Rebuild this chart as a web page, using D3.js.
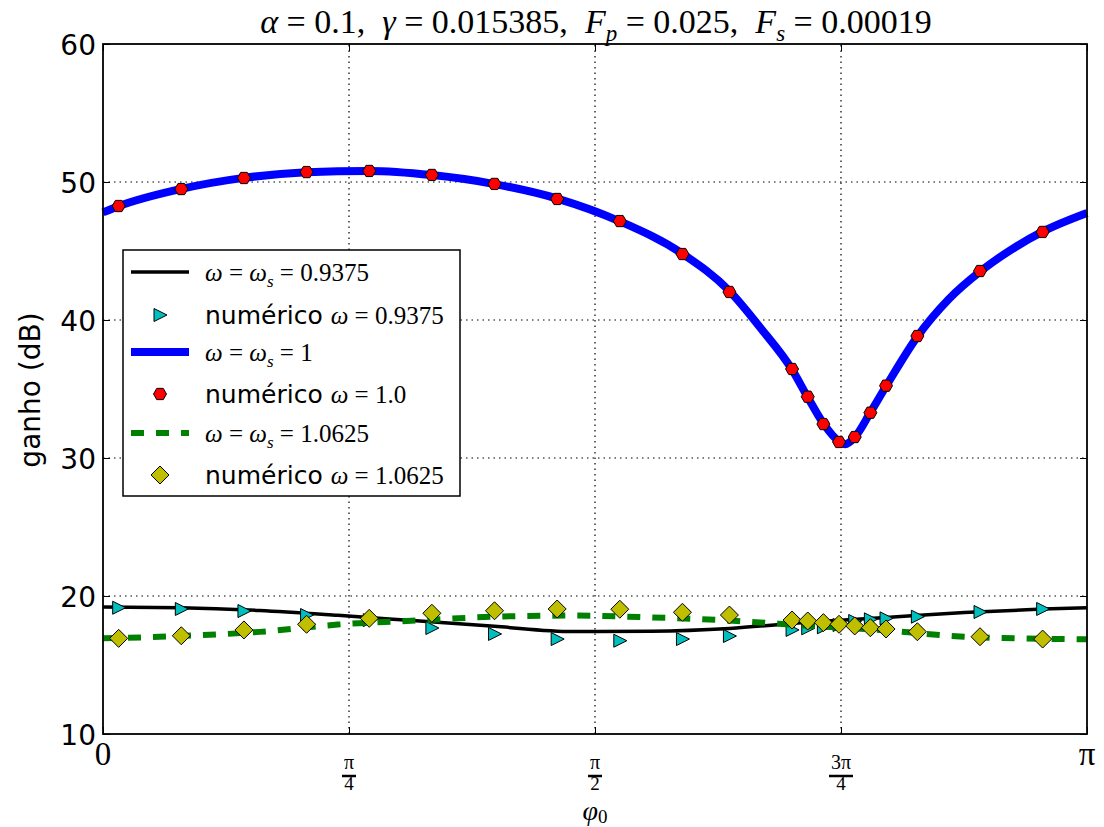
<!DOCTYPE html>
<html>
<head>
<meta charset="utf-8">
<script src="https://cdn.jsdelivr.net/npm/d3@7"></script>
<style>
body { margin: 0; background: #fff; }
text { fill: #000; }
</style>
</head>
<body>
<svg id="chart" width="1104" height="827"></svg>
<script>
// phi values (rad) where the numerical results were computed
const phiMarkers = [0.05, 0.25, 0.45, 0.65, 0.85, 1.05, 1.25, 1.45, 1.65, 1.85, 2.0,
  2.2, 2.25, 2.3, 2.35, 2.4, 2.45, 2.5, 2.6, 2.8, 3.0]
const numW09375 = [19.15, 19.06, 18.91, 18.62, 18.25, 17.68, 17.25, 16.88, 16.76, 16.88, 17.10,
  17.54, 17.66, 17.73, 17.90, 18.19, 18.31, 18.38, 18.50, 18.84, 19.06]
const numW1 = [48.26, 49.49, 50.29, 50.72, 50.80, 50.51, 49.86, 48.77, 47.17, 44.78, 42.03,
  36.45, 34.44, 32.46, 31.16, 31.52, 33.28, 35.24, 38.84, 43.55, 46.38]
const numW10625 = [16.93, 17.12, 17.54, 17.95, 18.38, 18.75, 18.93, 19.06, 19.04, 18.82, 18.62,
  18.26, 18.19, 18.07, 17.95, 17.83, 17.70, 17.61, 17.41, 17.05, 16.88]

// analytic curves
const phiCurve = [0, 0.25, 0.5, 0.75, 1.0, 1.25, 1.5, 1.75, 2.0, 2.25, 2.5, 2.75, 3.0, Math.PI]
const curveW09375 = [19.2, 19.15, 18.95, 18.6, 18.2, 17.8, 17.42, 17.45, 17.65, 18.1, 18.45, 18.8, 19.05, 19.15]
const curveW10625 = [16.93, 17.1, 17.4, 17.93, 18.22, 18.5, 18.58, 18.45, 18.22, 17.85, 17.5, 17.05, 16.9, 16.86]
const phiBlue = [0, 0.05, 0.25, 0.45, 0.65, 0.85, 1.05, 1.25, 1.45, 1.65, 1.85, 2.0, 2.1,
  2.2, 2.25, 2.3, 2.35, 2.37, 2.4, 2.45, 2.5, 2.6, 2.7, 2.8, 2.9, 3.0, Math.PI]
const curveW1 = [47.8, 48.25, 49.5, 50.3, 50.7, 50.8, 50.5, 49.85, 48.8, 47.15, 44.8, 42.1, 39.4,
  36.4, 34.4, 32.5, 31.2, 31.0, 31.5, 33.3, 35.2, 38.8, 41.5, 43.5, 45.1, 46.4, 47.75]

const yTicks = [10, 20, 30, 40, 50, 60]
const xTicks = [0, Math.PI / 4, Math.PI / 2, 3 * Math.PI / 4, Math.PI]
const xTickLabels = [['0'], ['π', '4'], ['π', '2'], ['3π', '4'], ['π']]

const svg = d3.select('#chart')
const serif = '"Liberation Serif", "DejaVu Serif", serif'
const sans = '"DejaVu Sans", sans-serif'

const x = d3.scaleLinear().domain([0, Math.PI]).range([103, 1087])
const y = d3.scaleLinear().domain([10, 60]).range([734, 44])

const zip = (xs, ys) => xs.map((d, i) => [d, ys[i]])

// grid
const grid = svg.append('g')
grid.selectAll('.gx').data(xTicks.slice(1, -1)).enter().append('line')
  .attr('x1', d => x(d)).attr('x2', d => x(d)).attr('y1', y(10)).attr('y2', y(60))
  .attr('stroke', '#000').attr('stroke-width', 1.2).attr('stroke-dasharray', '1.5,4')
grid.selectAll('.gy').data(yTicks.slice(1, -1)).enter().append('line')
  .attr('x1', x(0)).attr('x2', x(Math.PI)).attr('y1', d => y(d)).attr('y2', d => y(d))
  .attr('stroke', '#000').attr('stroke-width', 1.2).attr('stroke-dasharray', '1.5,4')

const line = d3.line().x(d => x(d[0])).y(d => y(d[1])).curve(d3.curveMonotoneX)
const plot = svg.append('g')

function markerPath(type) {
  if (type === 'tri') return 'M7,0 L-6,-6.5 L-6,6.5 Z'
  if (type === 'dia') return 'M0,-9 L9,0 L0,9 L-9,0 Z'
  const r = 6.5
  return d3.range(6).map(i => {
    const a = i * Math.PI / 3
    return (i ? 'L' : 'M') + (r * Math.cos(a)).toFixed(2) + ',' + (r * Math.sin(a)).toFixed(2)
  }).join('') + 'Z'
}

function drawLine(data, color, width, dash) {
  plot.append('path').datum(data).attr('d', line)
    .attr('fill', 'none').attr('stroke', color).attr('stroke-width', width)
    .attr('stroke-dasharray', dash || null).attr('stroke-linejoin', 'round')
}
function drawMarkers(data, type, color) {
  plot.append('g').selectAll('path').data(data).enter().append('path')
    .attr('transform', d => `translate(${x(d[0])},${y(d[1])})`)
    .attr('d', markerPath(type))
    .attr('fill', color).attr('stroke', '#000').attr('stroke-width', 1)
}

drawLine(zip(phiCurve, curveW09375), '#000', 3.5)
drawMarkers(zip(phiMarkers, numW09375), 'tri', '#00bfbf')
drawLine(zip(phiBlue, curveW1), '#0000ff', 8)
drawMarkers(zip(phiMarkers, numW1), 'hex', '#ff0000')
drawLine(zip(phiCurve, curveW10625), '#008000', 6, '13,12')
drawMarkers(zip(phiMarkers, numW10625), 'dia', '#bfbf00')

// axes with inward ticks
svg.append('g').attr('transform', 'translate(103,0)')
  .call(d3.axisLeft(y).tickValues(yTicks).tickSize(-7).tickPadding(7))
  .call(g => g.select('.domain').remove())
  .call(g => g.selectAll('text').attr('font-family', sans).attr('font-size', 28).attr('dy', '0.36em'))
svg.append('g').attr('transform', 'translate(1087,0)')
  .call(d3.axisRight(y).tickValues(yTicks).tickSize(-7).tickFormat(''))
  .call(g => g.select('.domain').remove())
svg.append('g').attr('transform', 'translate(0,734)')
  .call(d3.axisBottom(x).tickValues(xTicks).tickSize(-7).tickFormat(''))
  .call(g => g.select('.domain').remove())
svg.append('g').attr('transform', 'translate(0,44)')
  .call(d3.axisTop(x).tickValues(xTicks).tickSize(-7).tickFormat(''))
  .call(g => g.select('.domain').remove())
svg.selectAll('.tick line').attr('stroke', '#000').attr('stroke-width', 1)

svg.append('rect').attr('x', 103).attr('y', 44).attr('width', 984).attr('height', 690)
  .attr('fill', 'none').attr('stroke', '#000').attr('stroke-width', 1.8)

// x tick labels (fractions of pi)
const xl = svg.append('g').attr('font-family', serif)
xTicks.forEach((t, i) => {
  const lab = xTickLabels[i]
  if (lab.length === 1) {
    xl.append('text').attr('x', x(t)).attr('y', 765).attr('text-anchor', 'middle')
      .attr('font-size', 33).text(lab[0])
  } else {
    xl.append('text').attr('x', x(t)).attr('y', 769).attr('text-anchor', 'middle')
      .attr('font-size', 20).text(lab[0])
    const w = lab[0].length > 1 ? 12 : 7
    xl.append('line').attr('x1', x(t) - w).attr('x2', x(t) + w).attr('y1', 776).attr('y2', 776)
      .attr('stroke', '#000').attr('stroke-width', 2.5)
    xl.append('text').attr('x', x(t)).attr('y', 790).attr('text-anchor', 'middle')
      .attr('font-size', 19).text(lab[1])
  }
})

// axis titles
const xt = svg.append('text').attr('x', 595).attr('y', 820).attr('text-anchor', 'middle')
  .attr('font-family', serif).attr('font-size', 28)
xt.append('tspan').attr('font-style', 'italic').text('φ')
xt.append('tspan').attr('font-size', 19).attr('dy', 3).text('0')

svg.append('text').attr('transform', 'translate(40,390) rotate(-90)')
  .attr('text-anchor', 'middle').attr('font-family', sans).attr('font-size', 28)
  .text('ganho (dB)')

// title
const title = svg.append('text').attr('x', 596).attr('y', 33).attr('text-anchor', 'middle')
  .attr('font-family', serif).attr('font-size', 34).attr('xml:space', 'preserve')
function addMath(el, parts, fsBase) {
  parts.forEach(p => {
    const ts = el.append('tspan').text(p.t)
    if (p.i) ts.attr('font-style', 'italic')
    if (p.sub) ts.attr('font-size', p.fs || Math.round(fsBase * 0.68)).attr('dy', p.sub)
    if (p.up) ts.attr('font-size', fsBase).attr('dy', p.up)
  })
}
addMath(title, [
  { t: 'α', i: 1 }, { t: ' = 0.1,  ' }, { t: 'γ', i: 1 }, { t: ' = 0.015385,  ' },
  { t: 'F', i: 1 }, { t: 'p', i: 1, sub: 8 }, { t: ' = 0.025,  ', up: -8 },
  { t: 'F', i: 1 }, { t: 's', i: 1, sub: 8 }, { t: ' = 0.00019', up: -8 }
], 34)

// legend
const legendItems = [
  { kind: 'line', color: '#000', width: 3.5, label: [{ t: 'ω', i: 1 }, { t: ' = ' }, { t: 'ω', i: 1 }, { t: 's', i: 1, sub: 6 }, { t: ' = 0.9375', up: -6 }] },
  { kind: 'tri', color: '#00bfbf', prefix: 'numérico ', label: [{ t: 'ω', i: 1 }, { t: ' = 0.9375' }] },
  { kind: 'line', color: '#0000ff', width: 8, label: [{ t: 'ω', i: 1 }, { t: ' = ' }, { t: 'ω', i: 1 }, { t: 's', i: 1, sub: 6 }, { t: ' = 1', up: -6 }] },
  { kind: 'hex', color: '#ff0000', prefix: 'numérico ', label: [{ t: 'ω', i: 1 }, { t: ' = 1.0' }] },
  { kind: 'line', color: '#008000', width: 6, dash: '13,12', label: [{ t: 'ω', i: 1 }, { t: ' = ' }, { t: 'ω', i: 1 }, { t: 's', i: 1, sub: 6 }, { t: ' = 1.0625', up: -6 }] },
  { kind: 'dia', color: '#bfbf00', prefix: 'numérico ', label: [{ t: 'ω', i: 1 }, { t: ' = 1.0625' }] }
]
const leg = svg.append('g')
leg.append('rect').attr('x', 123).attr('y', 250).attr('width', 337).attr('height', 246)
  .attr('fill', '#fff').attr('stroke', '#000').attr('stroke-width', 1.5)
const rowY = [272, 315, 352, 394, 433, 475]
legendItems.forEach((it, i) => {
  const cy = rowY[i]
  if (it.kind === 'line') {
    leg.append('line').attr('x1', 131).attr('x2', 189).attr('y1', cy).attr('y2', cy)
      .attr('stroke', it.color).attr('stroke-width', it.width).attr('stroke-dasharray', it.dash || null)
  } else {
    leg.append('path').attr('transform', `translate(160,${cy})`).attr('d', markerPath(it.kind))
      .attr('fill', it.color).attr('stroke', '#000').attr('stroke-width', 1)
  }
  const t = leg.append('text').attr('x', 205).attr('y', cy + 9).attr('xml:space', 'preserve')
  if (it.prefix) {
    t.append('tspan').attr('font-family', sans).attr('font-size', 25).text(it.prefix)
  }
  const m = t.append('tspan').attr('font-family', serif).attr('font-size', 25)
  addMath(m, it.label, 25)
})
</script>
</body>
</html>
